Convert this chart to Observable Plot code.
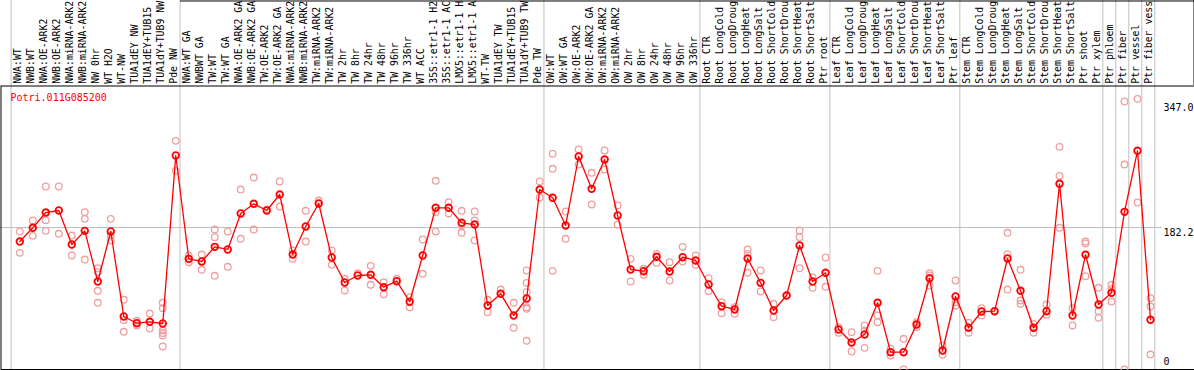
<!DOCTYPE html>
<html>
<head>
<meta charset="utf-8">
<script src="https://cdn.jsdelivr.net/npm/d3@7"></script>
<script src="https://cdn.jsdelivr.net/npm/@observablehq/plot@0.6"></script>
<style>
  html, body { margin: 0; padding: 0; background: white; }
  #chart svg { display: block; }
</style>
</head>
<body>
<div id="chart"></div>
<script>
const geneId = "Potri.011G085200";

const categories = [
  "NWA:WT","NWB:WT","NWA:OE-ARK2","NWB:OE-ARK2","NWA:miRNA-ARK2","NWB:miRNA-ARK2","NW 0hr","WT H2O","WT-NW",
  "TUA1dEY NW","TUA1dEY+TUB15 NW","TUA1dY+TUB9 NW","Pde NW",
  "NWA:WT GA","NWBWT GA","TW:WT","TW:WT GA","NWA:OE-ARK2 GA","NWB:OE-ARK2 GA","TW:OE-ARK2","TW:OE-ARK2 GA",
  "NWA:miRNA-ARK2 GA","NWB:miRNA-ARK2 GA","TW:miRNA-ARK2","TW:miRNA-ARK2 GA",
  "TW 2hr","TW 8hr","TW 24hr","TW 48hr","TW 96hr","TW 336hr","WT ACC",
  "35S::etr1-1 H2O","35S::etr1-1 ACC","LMX5::etr1-1 H2O","LMX5::etr1-1 ACC",
  "WT-TW","TUA1dEY TW","TUA1dEY+TUB15 TW","TUA1dY+TUB9 TW","Pde TW",
  "OW:WT","OW:WT GA","OW:OE-ARK2","OW:OE-ARK2 GA","OW:miRNA-ARK2","OW:miRNA-ARK2 GA",
  "OW 2hr","OW 8hr","OW 24hr","OW 48hr","OW 96hr","OW 336hr",
  "Root CTR","Root LongCold","Root LongDrought","Root LongHeat","Root LongSalt",
  "Root ShortCold","Root ShortDrought","Root ShortHeat","Root ShortSalt","Ptr root",
  "Leaf CTR","Leaf LongCold","Leaf LongDrought","Leaf LongHeat","Leaf LongSalt",
  "Leaf ShortCold","Leaf ShortDrought","Leaf ShortHeat","Leaf ShortSalt","Ptr leaf",
  "Stem CTR","Stem LongCold","Stem LongDrought","Stem LongHeat","Stem LongSalt",
  "Stem ShortCold","Stem ShortDrought","Stem ShortHeat","Stem ShortSalt",
  "Ptr shoot","Ptr xylem","Ptr phloem","Ptr fiber","Ptr vessel","Ptr fiber vessel"
];

const means = [
  164.2,181.8,201.4,204.0,160.4,177.9,112.9,177.1,68.0,59.4,61.2,59.0,274.6,
  142.0,138.6,157.4,154.0,200.2,212.6,204.0,224.5,147.5,183.5,213.0,143.7,
  111.6,120.6,121.5,105.6,113.3,86.9,146.3,207.5,207.5,188.2,186.0,82.1,97.1,69.3,91.1,230.9,
  220.3,184.8,273.3,231.8,269.4,197.6,128.3,126.1,144.6,125.7,144.1,139.9,
  109.1,81.2,77.0,142.4,111.2,75.7,94.9,159.1,112.9,124.1,
  51.3,34.6,44.9,85.6,22.2,22.2,57.7,117.1,24.4,93.7,
  53.5,74.4,74.8,142.4,101.0,53.5,74.8,238.3,69.3,147.2,83.4,
  98.4,202.3,280.6,63.8
];

const replicates = [
  [177.1,149.7],[191.2,171.5],[234.8,191.6,177.9],[234.8,174.1],[171.9,146.3],
  [201.8,193.3,141.1],[130.0,124.8,101.0,85.6],[193.3,171.9,165.5],[89.4,63.3,48.4],
  [62.5,56.5],[71.8,52.6],[85.6,78.7,50.0,46.8,43.6,29.5],[293.4,254.9],
  [146.3,137.7],[147.5,127.9],[179.6,169.8,120.2],[177.1,131.8],[230.9,167.7],
  [246.3,179.6],[205.3],[241.2,209.1],[152.7,142.0],[203.6,164.2],[216.8],
  [152.7,134.3],[116.4,101.4],[123.6],[133.0,108.7],[112.0,96.6],[116.4],
  [92.8,79.9],[166.8,122.8],[242.1,201.8,177.1],[214.7,200.2],[203.6,184.8,175.4],
  [202.7,191.2,165.5],[89.4,73.5],[102.6],[85.6,53.5],[127.0,111.2,99.2,79.9,77.9,36.8],
  [241.2,220.7],[276.8,257.5,126.6],[202.7,167.7],[282.3,263.0],[252.4,211.7],
  [281.0,256.6],[210.4,185.7],[142.0,112.9],[129.2,121.5],[148.4,136.9],
  [137.7,114.2],[157.4,138.6],[146.3,134.3],[117.1,100.5],[86.4,72.3],
  [79.9,71.5],[154.0,148.4,124.1],[127.0,100.1],[84.3,67.1],[94.9],
  [178.3,169.8,130.0],[118.4,104.8],[143.7,106.1],[54.3,47.1],[47.9,23.1],
  [56.5,50.0,27.8],[126.6,69.3,60.7],[26.6,18.0],[39.4,0],[60.7,54.3],
  [123.6,120.6,107.8],[30.8,18.8],[114.2,86.4,82.1],[59.9,47.1],[78.7,69.3],
  [74.8],[175.4,147.9,102.6],[127.9,88.5,84.3],[58.6,47.1],[83.4,70.2],
  [285.7,248.5,181.8],[78.7,56.5],[164.2,161.7,119.7],[104.8,74.8,66.3],
  [108.7,103.5,87.2],[343.9,263.0,0],[347.3,214.3],[91.5,80.8,19.2]
];

// index of first category of each group (and end)
const groupStarts = [0, 13, 41, 53, 63, 73, 84, 85, 86, 87, 88];

const yTickMax = 347.0;
const yTickMid = 182.2;
const yTickMin = 0;
const yDomainMax = 2 * yTickMid;

// the label strip only has room for 14 characters
const maxLabelChars = 14;
const shortLabel = s => s.slice(0, maxLabelChars).trimEnd();

// ---- derived tables ----
const meanRows = means.map((v, i) => ({i, v}));
const repRows = replicates.flatMap((arr, i) => arr.map(v => ({i, v})));
const W = 1194, H = 370, MT = 85, MB = 1;
const pxToY = p => yDomainMax * ((H - MB) - p) / ((H - MB) - MT);
const xStep = (1150 - 19.3) / (categories.length - 1);
const pxToX = p => (p - 19.3) / xStep;

const chart = Plot.plot({
  width: W,
  height: H,
  marginTop: MT,
  marginBottom: MB,
  marginLeft: 0,
  marginRight: 0,
  style: {fontFamily: "DejaVu Sans Mono", fontSize: "10px", background: "white"},
  x: {type: "linear", domain: [0, categories.length - 1], range: [19.3, 1150], axis: null},
  y: {domain: [0, yDomainMax], range: [H - MB, MT], axis: null},
  marks: [
    // group separators (full height)
    Plot.ruleX(groupStarts, {x: d => d - 0.67, y1: pxToY(H + 1), y2: pxToY(-1), stroke: "#c0c0c0", strokeWidth: 1}),
    // midline
    Plot.ruleY([yTickMid], {x1: pxToX(0), x2: pxToX(1162), stroke: "#c0c0c0", strokeWidth: 1}),
    // borders
    Plot.frame({stroke: "black", insetLeft: 0.5, insetTop: 0.5}),
    Plot.ruleY([0], {y: () => pxToY(0.5), x1: pxToX(180), x2: pxToX(W), stroke: "black"}),
    Plot.ruleX([0], {x: () => pxToX(W - 0.5), y1: pxToY(0), y2: pxToY(MT), stroke: "black"}),
    // category labels
    Plot.axisX(d3.range(categories.length), {
      anchor: "top", tickSize: 0, tickPadding: 1.7, tickRotate: -90,
      tickFormat: i => shortLabel(categories[i]), label: null, dx: -1.5,
      fontSize: 9.85, fill: "black"
    }),
    // replicate points
    Plot.dot(repRows, {x: "i", y: "v", r: 3.3, stroke: "#f0a0a0", strokeWidth: 1.3, fill: "none"}),
    // mean line + points
    Plot.line(meanRows, {x: "i", y: "v", stroke: "#ff0000", strokeWidth: 1.3}),
    Plot.dot(meanRows, {x: "i", y: "v", r: 3.3, stroke: "#ff0000", strokeWidth: 1.8, fill: "none"}),
    // gene id
    Plot.text([geneId], {frameAnchor: "top-left", dx: 10, dy: 8.5, lineAnchor: "top", textAnchor: "start", fill: "#ff0000", fontSize: 10}),
    // y labels
    Plot.text([yTickMax], {y: d => d, frameAnchor: "right", dx: -31, dy: 5, lineAnchor: "top", textAnchor: "start", text: d => d.toFixed(1), fill: "black"}),
    Plot.text([yTickMid], {y: d => d, frameAnchor: "right", dx: -31, dy: 1.5, lineAnchor: "top", textAnchor: "start", text: d => d.toFixed(1), fill: "black"}),
    Plot.text([yTickMin], {y: d => d, frameAnchor: "right", dx: -31, dy: -11.8, lineAnchor: "top", textAnchor: "start", text: d => String(d), fill: "black"})
  ]
});
document.getElementById("chart").appendChild(chart);
</script>
</body>
</html>
